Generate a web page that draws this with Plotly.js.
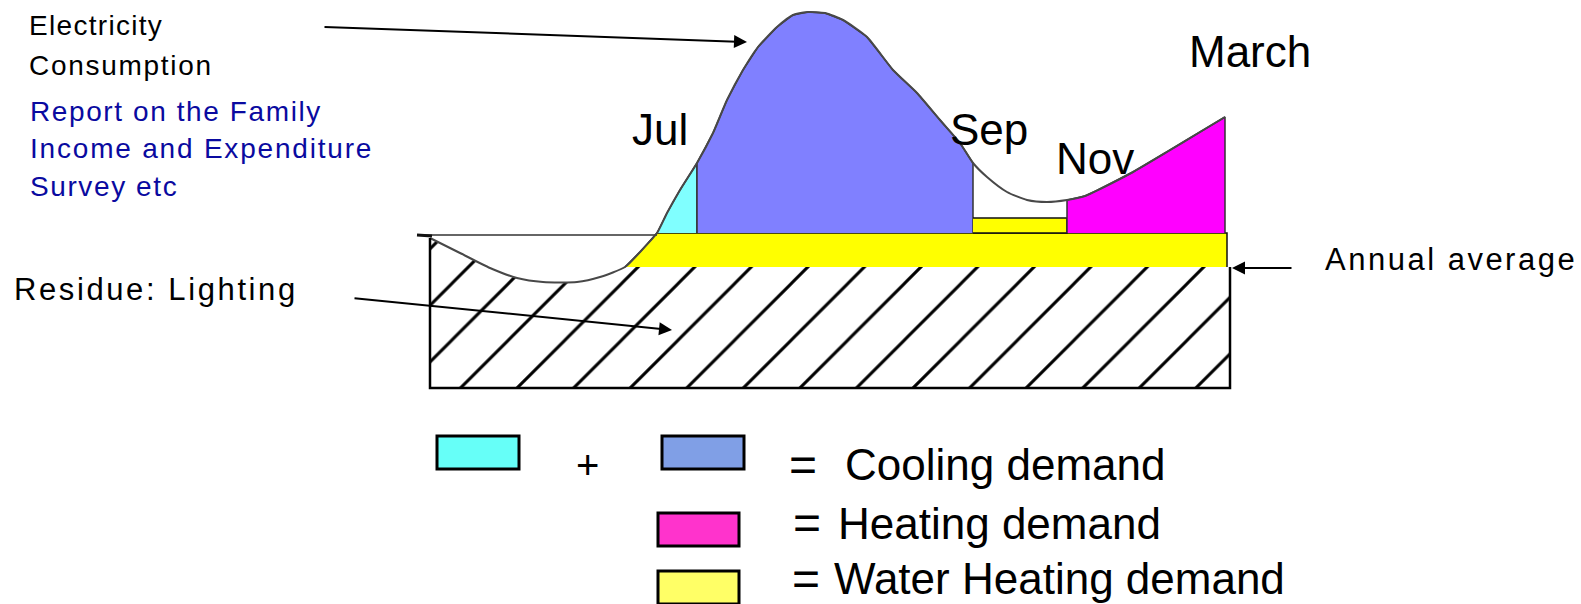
<!DOCTYPE html>
<html>
<head>
<meta charset="utf-8">
<script src="https://cdn.plot.ly/plotly-3.0.1.min.js"></script>
<style>
  html, body { margin: 0; padding: 0; background: #ffffff; }
  #chart { width: 1581px; height: 604px; }
</style>
</head>
<body>
<div id="chart"></div>
<script>
// ---- data (diagram units) ----
const curveX = [430, 460, 490, 517, 543, 577, 600, 625, 640, 657, 667, 680, 697, 713, 727, 743, 758, 777, 793, 808, 825, 843, 867, 893, 917, 940, 960, 973, 987, 1007, 1027, 1047, 1067, 1085, 1100, 1133, 1167, 1200, 1225];
const curveY = [238, 253, 268, 278, 282, 282, 277, 267, 252, 233, 213, 190, 163, 133, 100, 70, 47, 27, 15, 12, 13, 20, 37, 70, 93, 120, 143, 163, 177, 192, 200, 202, 200, 196, 189, 172, 152, 132, 117];
const monthLabels = ['Jul', 'Sep', 'Nov', 'March'];
const monthX = [697, 973, 1067, 1225];
const lightingTop = 267;      // top of residue (lighting) block
const waterTop = 233;         // top of water heating band (annual average level)
const waterExtraTop = 218;    // extra water heating Sep-Nov
const bandStartX = 625;
const bandEndX = 1227;
const boxLeft = 430, boxRight = 1230, boxBottom = 388;

function slice(a, b) {
  const xs = [], ys = [];
  for (let i = 0; i < curveX.length; i++) {
    if (curveX[i] >= a && curveX[i] <= b) { xs.push(curveX[i]); ys.push(curveY[i]); }
  }
  return [xs, ys];
}

const traces = [];
function poly(xs, ys, fill, line, extra) {
  traces.push(Object.assign({
    type: 'scatter', mode: 'lines', x: xs, y: ys, fill: 'toself',
    fillcolor: fill, line: line, hoverinfo: 'skip', showlegend: false
  }, extra || {}));
}

// hatched residue (lighting)
let s = slice(boxLeft, bandStartX);
poly(s[0].concat([boxRight, boxRight, boxLeft]), s[1].concat([lightingTop, boxBottom, boxBottom]),
  'white', {width: 0, color: 'rgba(0,0,0,0)'},
  {fillpattern: {shape: '/', size: 40, solidity: 0.075, fgcolor: '#000000', bgcolor: '#ffffff'}});

// water heating band
s = slice(bandStartX, monthX[0] - 40);
poly(s[0].concat([bandEndX, bandEndX]), s[1].concat([waterTop, lightingTop]), '#FFFF00', {width: 1.5, color: '#111'});

// cyan (cooling early)
s = slice(657, monthX[0]);
poly(s[0].concat([monthX[0]]), s[1].concat([waterTop]), '#80FFFF', {width: 1.5, color: '#333'});
// blue (cooling)
s = slice(monthX[0], monthX[1]);
poly([monthX[0]].concat(s[0], [monthX[1]]), [waterTop].concat(s[1], [waterTop]), '#8080FF', {width: 1.5, color: '#333'});
// extra water heating
poly([monthX[1], monthX[2], monthX[2], monthX[1]], [waterTop, waterTop, waterExtraTop, waterExtraTop], '#FFFF00', {width: 1.5, color: '#111'});
// pink (heating)
s = slice(monthX[2], monthX[3]);
poly([monthX[2]].concat(s[0], [monthX[3]]), [waterTop].concat(s[1], [waterTop]), '#FF00FF', {width: 1.5, color: '#333'});

// annual average thin line on the left
traces.push({type: 'scatter', mode: 'lines', x: [417, 657], y: [235, 235], line: {color: '#333', width: 1.5}, hoverinfo: 'skip', showlegend: false});
traces.push({type: 'scatter', mode: 'lines', x: [417, 432], y: [235, 236], line: {color: '#111', width: 3}, hoverinfo: 'skip', showlegend: false});

// consumption curve
traces.push({type: 'scatter', mode: 'lines', x: curveX, y: curveY, line: {color: '#484848', width: 2, shape: 'spline', smoothing: 0.6}, hoverinfo: 'skip', showlegend: false});

// residue box edges
traces.push({type: 'scatter', mode: 'lines', x: [boxLeft, boxLeft, boxRight, boxRight], y: [238, boxBottom, boxBottom, lightingTop], line: {color: '#000', width: 2.5}, hoverinfo: 'skip', showlegend: false});

const F = 'Liberation Sans, Arial, sans-serif';
function txt(t, x, y, size, color, xanchor, extra) {
  return Object.assign({text: t, x: x, y: y, xref: 'x', yref: 'y', showarrow: false,
    xanchor: xanchor || 'left', yanchor: 'middle', font: {family: F, size: size, color: color || '#000'}}, extra || {});
}
function arrow(tx, ty, hx, hy) {
  return {text: '', x: hx, y: hy, ax: tx, ay: ty, xref: 'x', yref: 'y', axref: 'x', ayref: 'y',
    showarrow: true, arrowhead: 2, arrowsize: 1.3, arrowwidth: 2, arrowcolor: '#000', standoff: 0, startstandoff: 0};
}

const annotations = [
  txt('Electricity', 27, 25, 28),
  txt('Consumption', 27, 65, 28),
  txt('Report on the Family', 28, 111, 28, '#0A0AA0'),
  txt('Income and Expenditure', 28, 148, 28, '#0A0AA0'),
  txt('Survey etc', 28, 186, 28, '#0A0AA0'),
  txt('Residue: Lighting', 12, 289, 31),
  txt('Annual average', 1323, 259, 31),
  txt(monthLabels[0], 660, 129, 44, '#000', 'center'),
  txt(monthLabels[1], 989, 129, 44, '#000', 'center'),
  txt(monthLabels[2], 1095, 158, 44, '#000', 'center'),
  txt(monthLabels[3], 1250, 51, 44, '#000', 'center'),
  txt('+', 587, 465, 40, '#000', 'center'),
  txt('=', 803, 464, 48, '#000', 'center'),
  txt('Cooling demand', 843, 464, 44),
  txt('=', 807, 522, 48, '#000', 'center'),
  txt('Heating demand', 836, 523, 44),
  txt('=', 806, 578, 48, '#000', 'center'),
  txt('Water Heating demand', 832, 578, 44),
  arrow(323, 27, 747, 42),
  arrow(353, 298, 672, 330),
  arrow(1293, 268, 1232, 268)
];

function box(x0, y0, x1, y1, color) {
  return {type: 'rect', xref: 'x', yref: 'y', x0: x0, y0: y0, x1: x1, y1: y1,
    fillcolor: color, line: {color: '#000', width: 3}, layer: 'above'};
}
const shapes = [
  box(437, 436, 519, 469, '#66FFF8'),
  box(662, 436, 744, 469, '#809FE6'),
  box(658, 513, 739, 546, '#FF33CC'),
  box(658, 571, 739, 604, '#FFFF66')
];

const layout = {
  width: 1581, height: 604,
  margin: {l: 0, r: 0, t: 0, b: 0},
  paper_bgcolor: '#ffffff', plot_bgcolor: '#ffffff',
  xaxis: {range: [0, 1581], visible: false, fixedrange: true},
  yaxis: {range: [604, 0], visible: false, fixedrange: true},
  annotations: annotations, shapes: shapes, showlegend: false
};

const spacing = {
  'Electricity': 1.3, 'Consumption': 1.7, 'Report on the Family': 1.6,
  'Income and Expenditure': 1.8, 'Survey etc': 1.6,
  'Residue: Lighting': 2.6, 'Annual average': 2.5
};

Plotly.newPlot('chart', traces, layout, {staticPlot: true, displayModeBar: false}).then(function () {
  document.querySelectorAll('.annotation-text').forEach(function (el) {
    const t = el.textContent;
    if (spacing[t] === undefined) return;
    const w0 = el.getComputedTextLength();
    el.style.letterSpacing = spacing[t] + 'px';
    let w1 = el.getComputedTextLength();
    if (!(w1 > w0)) w1 = w0 + spacing[t] * t.length;
    const dx = (w1 - w0) / 2;
    el.setAttribute('transform', 'translate(' + dx.toFixed(2) + ',0)');
  });
});
</script>
</body>
</html>
